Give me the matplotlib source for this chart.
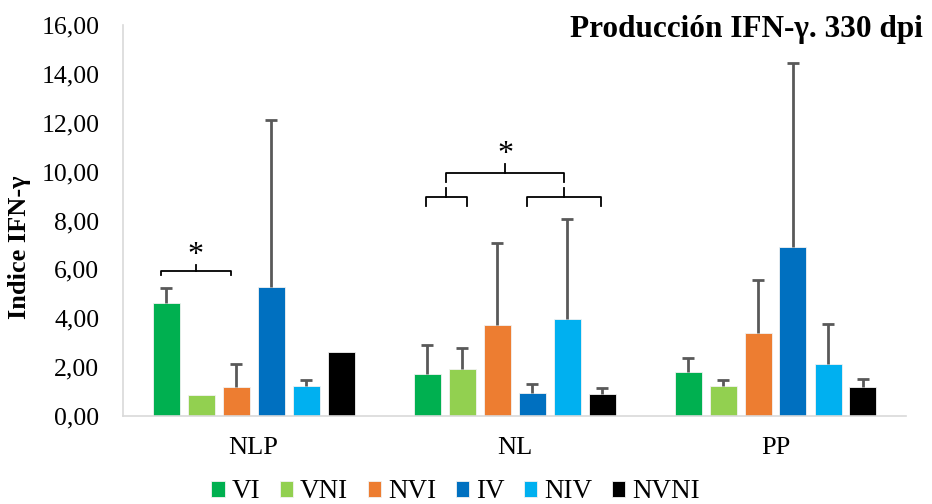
import matplotlib
matplotlib.use("Agg")
import matplotlib.pyplot as plt
import numpy as np

plt.rcParams['font.family'] = ['Liberation Serif', 'DejaVu Serif']

categories = ["NLP", "NL", "PP"]
series = ["VI", "VNI", "NVI", "IV", "NIV", "NVNI"]
colors = ["#00B050", "#92D050", "#ED7D31", "#0070C0", "#00B0F0", "#000000"]
values = {
    "VI":   [4.62, 1.72, 1.80],
    "VNI":  [0.86, 1.92, 1.23],
    "NVI":  [1.19, 3.72, 3.40],
    "IV":   [5.28, 0.94, 6.91],
    "NIV":  [1.23, 3.97, 2.13],
    "NVNI": [2.62, 0.90, 1.19],
}
errors = {
    "VI":   [0.62, 1.18, 0.57],
    "VNI":  [0.0, 0.86, 0.25],
    "NVI":  [0.94, 3.36, 2.16],
    "IV":   [6.82, 0.37, 7.53],
    "NIV":  [0.24, 4.09, 1.63],
    "NVNI": [0.0, 0.24, 0.33],
}
yticks = [0, 2, 4, 6, 8, 10, 12, 14, 16]

fig = plt.figure(figsize=(9.32, 5.04), dpi=100)
ax = fig.add_axes([123/932, 88/504, 783/932, 391/504])

x = np.arange(len(categories))
step = 35/261
width = 27/261
for i, s in enumerate(series):
    pos = x + (i - 2.5) * step
    vals = np.array(values[s])
    err = np.array(errors[s])
    ax.bar(pos, vals, width, color=colors[i], edgecolor="#F2F2F2", linewidth=0.6, label=s, zorder=2)
    mask = err > 0
    top = vals[mask] + err[mask]
    ax.vlines(pos[mask], vals[mask], top, color="#595959", lw=2, zorder=3)
    ax.plot(pos[mask], top, linestyle="none", marker="_", markersize=9, mew=2,
            color="#595959", zorder=3)

ax.set_xlim(-0.5, 2.5)
ax.set_ylim(0, 16)
ax.set_yticks(yticks)
ax.set_yticklabels([f"{v:.2f}".replace(".", ",") for v in yticks], fontsize=18.5)
ax.set_xticks(x)
ax.set_xticklabels(categories, fontsize=19)
ax.tick_params(axis='y', length=0, pad=17)
ax.tick_params(axis='x', length=0, pad=15)
for sp in ["top", "right"]:
    ax.spines[sp].set_visible(False)
for sp in ["left", "bottom"]:
    ax.spines[sp].set_color("#D9D9D9")
    ax.spines[sp].set_linewidth(1.2)

ax.set_ylabel("Indice IFN-γ", fontsize=19, fontweight="bold", va="center")
ax.yaxis.set_label_coords((20 - 123) / 783, (416 - 247.5) / 391)
fig.text(923/932, 1 - 37/504, "Producción IFN-γ. 330 dpi", ha="right", va="baseline",
         fontsize=22.5, fontweight="bold")

def bracket(x0, x1, y, drop=0.2, tip=0.25):
    xm = (x0 + x1) / 2
    ax.plot([x0, x0, x1, x1], [y - drop, y, y, y - drop], color="black", lw=1.3, zorder=4)
    ax.plot([xm, xm], [y, y + tip], color="black", lw=1.3, zorder=4)

def gx(g, i):
    return g + (i - 2.5) * step

# NLP bracket VI vs NVI
b0, b1 = gx(0, 0) - 0.02, gx(0, 2) - 0.02
bracket(b0, b1, 5.93, drop=0.18, tip=0.25)
ax.text((b0 + b1) / 2, 6.55, "*", ha="center", va="center", fontsize=23)
# NL brackets
l0, l1 = gx(1, 0) - 0.005, gx(1, 1) + 0.02
r0, r1 = gx(1, 3) - 0.02, gx(1, 5) - 0.005
bracket(l0, l1, 8.96, drop=0.36, tip=0.37)
bracket(r0, r1, 8.96, drop=0.36, tip=0.37)
m1 = (l0 + l1) / 2
m2 = (r0 + r1) / 2
bracket(m1, m2, 9.94, drop=0.37, tip=0.37)
ax.text((m1 + m2) / 2, 10.72, "*", ha="center", va="center", fontsize=23)

fig.legend(loc="center", bbox_to_anchor=(455.5/932, 12/504), ncol=6, frameon=False,
           fontsize=19.5, handlelength=0.5, handleheight=0.5, handletextpad=0.25,
           columnspacing=0.72)

fig.savefig("out.png", dpi=100)
